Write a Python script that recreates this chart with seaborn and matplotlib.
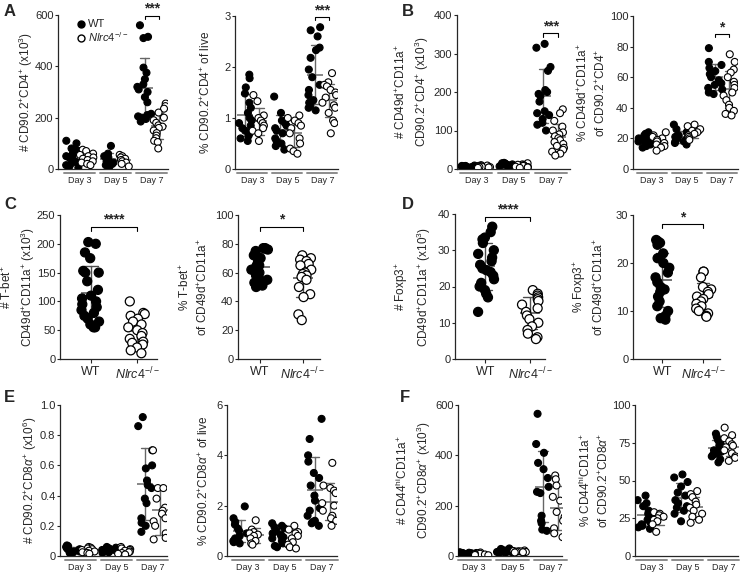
import warnings
import numpy as np
import pandas as pd
import seaborn as sns
import matplotlib.pyplot as plt
from matplotlib.lines import Line2D

warnings.filterwarnings('ignore')

days = ['Day 3', 'Day 5', 'Day 7']
genos = ['WT', 'Nlrc4']
ko_label = r'$\mathit{Nlrc4}^{-/-}$'

# A: CD90.2+CD4+ count (x10^3), per day 3/5/7
a_count_wt = [[110, 100, 80, 75, 70, 60, 55, 50, 45, 40, 30, 25, 20, 15, 10, 5],
              [90, 60, 50, 45, 40, 35, 30, 25, 20, 15, 10],
              [560, 515, 510, 395, 375, 350, 330, 320, 310, 300, 280, 260, 215, 210, 205, 200, 195, 185]]
a_count_ko = [[75, 70, 60, 55, 50, 45, 40, 35, 30, 25, 20, 15],
              [55, 50, 45, 40, 35, 30, 25, 20, 10],
              [255, 245, 235, 220, 200, 190, 180, 170, 165, 160, 150, 140, 130, 120, 110, 105, 80]]
# A: % CD90.2+CD4+ of live
a_pct_wt = [[1.85, 1.78, 1.6, 1.48, 1.3, 1.2, 1.1, 1.0, 0.95, 0.9, 0.85, 0.8, 0.75, 0.7, 0.65, 0.6, 0.55],
            [1.42, 1.1, 0.95, 0.9, 0.85, 0.8, 0.75, 0.7, 0.6, 0.55, 0.5, 0.45, 0.38],
            [2.78, 2.72, 2.6, 2.38, 2.33, 2.18, 1.95, 1.8, 1.65, 1.55, 1.45, 1.35, 1.3, 1.25, 1.2, 1.15]]
a_pct_ko = [[1.45, 1.33, 1.05, 1.0, 0.95, 0.9, 0.85, 0.8, 0.75, 0.7, 0.55],
            [1.05, 1.0, 0.95, 0.9, 0.85, 0.8, 0.7, 0.6, 0.5, 0.4, 0.35, 0.3],
            [1.88, 1.7, 1.65, 1.62, 1.55, 1.5, 1.45, 1.4, 1.3, 1.25, 1.2, 1.1, 0.95, 0.9, 0.7]]

# B: CD49d+CD11a+ count (x10^3) and % of CD90.2+CD4+
b_count_wt = [[9, 8, 8, 7, 7, 6, 6, 5, 5, 4, 4, 3, 3, 2],
              [16, 15, 14, 13, 12, 12, 11, 10, 9, 8, 7, 6],
              [325, 315, 265, 255, 205, 200, 195, 190, 175, 150, 145, 140, 130, 120, 115, 100]]
b_count_ko = [[10, 9, 8, 7, 7, 6, 5, 5, 4, 3],
              [15, 12, 11, 10, 9, 8, 6, 5, 4, 3],
              [155, 145, 125, 110, 100, 95, 90, 85, 80, 75, 70, 65, 60, 55, 50, 45, 40, 35]]
b_pct_wt = [[24, 23, 22, 21, 20, 20, 19, 18, 18, 17, 16, 15, 14],
            [29, 26, 24, 22, 21, 20, 19, 18, 18, 17, 16],
            [79, 70, 68, 66, 64, 62, 60, 58, 56, 55, 53, 52, 50, 49]]
b_pct_ko = [[24, 22, 21, 20, 19, 18, 17, 16, 15, 14, 12],
            [29, 28, 26, 25, 24, 23, 22, 21, 20, 19],
            [75, 70, 65, 63, 60, 57, 55, 53, 50, 48, 45, 42, 40, 38, 36, 35]]

# C: T-bet+ (day 7)
c_count_wt = [203, 200, 185, 175, 153, 150, 150, 135, 120, 110, 105, 100, 95, 90, 85, 80, 75, 70, 65, 60, 55, 55]
c_count_ko = [100, 80, 78, 75, 70, 65, 60, 55, 50, 45, 40, 35, 30, 28, 25, 20, 15, 10]
c_pct_wt = [77, 77, 76, 75, 73, 72, 70, 68, 66, 65, 64, 62, 60, 58, 56, 55, 53, 52, 51, 50]
c_pct_ko = [72, 70, 69, 68, 66, 65, 62, 60, 59, 58, 57, 55, 50, 45, 43, 31, 27]

# D: Foxp3+ (day 7)
d_count_wt = [36.5, 35, 33.5, 33, 32, 30, 29, 28, 27, 26, 25, 24.5, 24, 23, 22, 21, 20, 19, 18, 17, 13]
d_count_ko = [19, 18, 17.5, 17, 16.5, 16, 15, 14, 13, 12, 11, 10, 9, 8, 7, 6, 5.5]
d_pct_wt = [24.8, 24.5, 24.2, 23.8, 22, 21, 20, 19, 18, 17, 16, 15, 14.5, 14, 13, 12, 11, 10, 9, 8.5, 8.2]
d_pct_ko = [18.2, 18.2, 17, 15, 14.5, 14, 13.5, 13, 12.5, 12, 11.5, 11, 10.5, 10, 9.5, 9, 8.8]

# E: CD90.2+CD8a+ count (x10^6) and % of live
e_count_wt = [[0.07, 0.065, 0.06, 0.05, 0.05, 0.045, 0.04, 0.04, 0.035, 0.03, 0.03, 0.025, 0.02, 0.02],
              [0.06, 0.055, 0.05, 0.05, 0.045, 0.04, 0.04, 0.035, 0.03, 0.03, 0.025, 0.02],
              [0.92, 0.86, 0.70, 0.60, 0.58, 0.50, 0.47, 0.45, 0.38, 0.35, 0.25, 0.22, 0.20, 0.16]]
e_count_ko = [[0.06, 0.055, 0.05, 0.045, 0.04, 0.035, 0.03, 0.025, 0.02, 0.015],
              [0.06, 0.05, 0.045, 0.04, 0.035, 0.03, 0.025, 0.02, 0.015, 0.01],
              [0.70, 0.45, 0.45, 0.38, 0.32, 0.30, 0.28, 0.25, 0.23, 0.20, 0.15, 0.12, 0.11]]
e_pct_wt = [[1.97, 1.5, 1.35, 1.25, 1.1, 1.0, 0.9, 0.8, 0.7, 0.65, 0.6, 0.55, 0.5],
            [1.3, 1.2, 1.15, 1.1, 1.0, 0.9, 0.85, 0.8, 0.75, 0.7, 0.6, 0.5, 0.4, 0.35],
            [5.45, 4.65, 4.0, 3.75, 3.3, 3.1, 2.8, 2.4, 2.2, 1.9, 1.8, 1.6, 1.4, 1.35, 1.3, 1.2]]
e_pct_ko = [[1.42, 1.05, 0.95, 0.9, 0.85, 0.8, 0.7, 0.6, 0.5, 0.45],
            [1.2, 1.05, 0.95, 0.9, 0.8, 0.7, 0.55, 0.45, 0.35, 0.3],
            [3.7, 2.8, 2.7, 2.6, 2.5, 2.1, 2.0, 1.8, 1.6, 1.5, 1.4, 1.2]]

# F: CD44hiCD11a+ count (x10^3) and % of CD90.2+CD8a+
f_count_wt = [[15, 13, 12, 11, 10, 9, 8, 7, 6, 5, 4, 3],
              [30, 28, 25, 23, 22, 20, 19, 18, 16, 15, 13, 12],
              [565, 445, 410, 370, 345, 310, 275, 255, 250, 160, 140, 130, 105, 100]]
f_count_ko = [[14, 12, 10, 9, 8, 6, 5, 4, 3],
              [22, 20, 19, 18, 17, 16, 15, 14],
              [320, 305, 280, 235, 220, 175, 155, 140, 110, 90, 75]]
f_pct_wt = [[40, 37, 35, 33, 30, 28, 26, 24, 22, 21, 20, 19, 18],
            [54, 52, 49, 46, 42, 40, 37, 35, 33, 32, 30, 28, 23],
            [81, 79, 77, 75, 74, 73, 72, 71, 70, 69, 68, 67, 66, 64, 62]]
f_pct_ko = [[29, 28, 27, 26, 25, 24, 23, 21, 16],
            [43, 41, 39, 36, 34, 32, 30, 28, 26, 24, 22],
            [85, 80, 78, 76, 74, 73, 72, 70, 68, 66, 65, 63]]

sns.set_theme(style='ticks')
plt.rcParams['font.family'] = ['Liberation Sans', 'DejaVu Sans']
plt.rcParams['mathtext.fontset'] = 'custom'
plt.rcParams['mathtext.rm'] = 'Liberation Sans'
plt.rcParams['mathtext.it'] = 'Liberation Sans:italic'
plt.rcParams['mathtext.bf'] = 'Liberation Sans:bold'

W, H = 740, 586
fig = plt.figure(figsize=(W / 100, H / 100), dpi=100)
np.random.seed(7)  # strip jitter only


def px_axes(l, t, r, b):
    return fig.add_axes([l / W, 1 - b / H, (r - l) / W, (b - t) / H])


def long_days(wt, ko):
    rows = []
    for g, series in (('WT', wt), ('Nlrc4', ko)):
        for d, vals in zip(days, series):
            rows += [(g, d, v) for v in vals]
    return pd.DataFrame(rows, columns=['geno', 'day', 'val'])


def long_geno(wt, ko):
    rows = [('WT', v) for v in wt] + [('Nlrc4', v) for v in ko]
    return pd.DataFrame(rows, columns=['geno', 'val'])


def style_axis(ax, box, ylim, yticks, ylabel, lab_off, xlim, ytl=None):
    sns.despine(ax=ax)
    for s in ('left', 'bottom'):
        ax.spines[s].set_linewidth(0.9)
        ax.spines[s].set_color('0.15')
    ax.set_ylim(*ylim)
    ax.set_yticks(yticks)
    if ytl is not None:
        ax.set_yticklabels(ytl)
    ax.set_xlim(*xlim)
    ax.tick_params(axis='y', labelsize=8, length=2.5, width=0.8, pad=0.8, color='0.15')
    ax.set_ylabel(ylabel, fontsize=8.5, linespacing=1.4)
    # label's lower edge sits lab_off pixels left of the y axis
    ax.yaxis.set_label_coords(-lab_off / (box[2] - box[0]), 0.5)
    ax.set_xlabel('')


def bracket(ax, x1, x2, y, h, text):
    ax.plot([x1, x1, x2, x2], [y - h, y, y, y - h], color='black', lw=0.8, clip_on=False)
    ax.text((x1 + x2) / 2, y, text, ha='center', va='bottom', fontsize=10,
            fontweight='bold', clip_on=False)


def day_panel(box, wt, ko, ylim, yticks, ylabel, lab_off, xlim, ytl=None, sig=None):
    ax = px_axes(*box)
    df = long_days(wt, ko)
    sns.stripplot(data=df, x='day', y='val', hue='geno', order=days, hue_order=genos,
                  dodge=True, jitter=0.4, palette=['black', 'white'], edgecolor='black',
                  linewidth=0.8, size=5, legend=False, ax=ax)
    sns.pointplot(data=df, x='day', y='val', hue='geno', order=days, hue_order=genos,
                  dodge=0.4, errorbar='sd', palette=['0.4', '0.4'], markers='_',
                  linestyles='none', markersize=11, markeredgewidth=1.1, capsize=0.25,
                  err_kws={'linewidth': 1.0}, legend=False, ax=ax)
    style_axis(ax, box, ylim, yticks, ylabel, lab_off, xlim, ytl)
    ax.tick_params(axis='x', length=0, labelsize=6.5, pad=5)
    tr = ax.get_xaxis_transform()
    for i in range(len(days)):
        ax.plot([i - 0.43, i + 0.43], [-0.025, -0.025], transform=tr, clip_on=False,
                color='0.55', lw=1.4)
    if sig:
        y, h, text = sig
        bracket(ax, 1.8, 2.2, y, h, text)
    return ax


def geno_panel(box, wt, ko, ylim, yticks, ylabel, lab_off, xlim, sig):
    ax = px_axes(*box)
    df = long_geno(wt, ko)
    sns.stripplot(data=df, x='geno', y='val', hue='geno', order=genos, hue_order=genos,
                  jitter=0.2, palette=['black', 'white'], edgecolor='black', linewidth=0.9,
                  size=6.5, legend=False, ax=ax)
    sns.pointplot(data=df, x='geno', y='val', order=genos, errorbar='sd', color='0.3',
                  markers='_', linestyles='none', markersize=14, markeredgewidth=1.1,
                  capsize=0.3, err_kws={'linewidth': 1.0}, ax=ax)
    style_axis(ax, box, ylim, yticks, ylabel, lab_off, xlim)
    ax.tick_params(axis='x', length=3, width=0.8, labelsize=9, pad=2, color='0.15')
    ax.set_xticks([0, 1])
    ax.set_xticklabels(['WT', ko_label])
    y, h, text = sig
    bracket(ax, 0, 1, y, h, text)
    return ax


# row 1: A and B
ax = day_panel((58, 15, 168, 169), a_count_wt, a_count_ko, (0, 600), [0, 200, 400, 600],
               '# CD90.2$^{+}$CD4$^{+}$ (x10$^{3}$)', 23, (-0.6, 2.45), sig=(598, 12, '***'))
handles = [Line2D([], [], marker='o', ls='none', color='black', markersize=5),
           Line2D([], [], marker='o', ls='none', markerfacecolor='white',
                  markeredgecolor='black', markersize=5)]
ax.legend(handles, ['WT', ko_label], loc='upper left', bbox_to_anchor=(0.12, 1.0),
          frameon=False, fontsize=8, handletextpad=0.1, borderaxespad=0, labelspacing=0.1,
          handlelength=1.0)

day_panel((235, 16, 338, 169), a_pct_wt, a_pct_ko, (0, 3), [0, 1, 2, 3],
          '% CD90.2$^{+}$CD4$^{+}$ of live', 22, (-0.5, 2.45), sig=(2.98, 0.06, '***'))
day_panel((457, 15, 570, 169), b_count_wt, b_count_ko, (0, 400), [0, 100, 200, 300, 400],
          '# CD49d$^{+}$CD11a$^{+}$\nCD90.2$^{+}$CD4$^{+}$ (x10$^{3}$)', 26, (-0.52, 2.52),
          sig=(352, 8, '***'))
day_panel((633, 16, 738, 169), b_pct_wt, b_pct_ko, (0, 100), [0, 20, 40, 60, 80, 100],
          '% CD49d$^{+}$CD11a$^{+}$\nof CD90.2$^{+}$CD4$^{+}$', 25, (-0.54, 2.45),
          sig=(88, 2, '*'))

# row 2: C and D
geno_panel((60, 215, 157, 359), c_count_wt, c_count_ko, (0, 250), [0, 50, 100, 150, 200, 250],
           '# T-bet$^{+}$\nCD49d$^{+}$CD11a$^{+}$ (x10$^{3}$)', 23, (-0.66, 1.43), (230, 7, '****'))
geno_panel((238, 215, 320, 359), c_pct_wt, c_pct_ko, (0, 100), [0, 20, 40, 60, 80, 100],
           '% T-bet$^{+}$\nof CD49d$^{+}$CD11a$^{+}$', 28, (-0.51, 1.4), (92, 3, '*'))
geno_panel((455, 214, 545, 359), d_count_wt, d_count_ko, (0, 40), [0, 10, 20, 30, 40],
           '# Foxp3$^{+}$\nCD49d$^{+}$CD11a$^{+}$ (x10$^{3}$)', 22, (-0.67, 1.33), (39.3, 1.1, '****'))
geno_panel((633, 215, 720, 359), d_pct_wt, d_pct_ko, (0, 30), [0, 10, 20, 30],
           '% Foxp3$^{+}$\nof CD49d$^{+}$CD11a$^{+}$', 27, (-0.71, 1.41), (28.1, 0.8, '*'))

# row 3: E and F
day_panel((60, 405, 167, 556), e_count_wt, e_count_ko, (0, 1.0), [0, 0.2, 0.4, 0.6, 0.8, 1.0],
          r'# CD90.2$^{+}$CD8$\alpha^{+}$ (x10$^{6}$)', 21, (-0.56, 2.4),
          ytl=['0', '0.2', '0.4', '0.6', '0.8', '1.0'])
day_panel((227, 405, 337, 556), e_pct_wt, e_pct_ko, (0, 6), [0, 2, 4, 6],
          r'% CD90.2$^{+}$CD8$\alpha^{+}$ of live', 16, (-0.57, 2.4))
day_panel((458, 405, 562, 556), f_count_wt, f_count_ko, (0, 600), [0, 200, 400, 600],
          '# CD44$^{\\mathrm{hi}}$CD11a$^{+}$\nCD90.2$^{+}$CD8$\\alpha^{+}$ (x10$^{3}$)', 25,
          (-0.42, 2.3))
day_panel((635, 405, 738, 556), f_pct_wt, f_pct_ko, (0, 100), [0, 25, 50, 75, 100],
          '% CD44$^{\\mathrm{hi}}$CD11a$^{+}$\nof CD90.2$^{+}$CD8$\\alpha^{+}$', 24, (-0.47, 2.4))

for letter, x, y in (('A', 4, 4), ('B', 402, 4), ('C', 4, 197), ('D', 402, 197),
                     ('E', 4, 390), ('F', 400, 390)):
    fig.text(x / W, 1 - y / H, letter, fontsize=12, fontweight='bold', ha='left', va='top')

fig.savefig('out.png', dpi=100, facecolor='white')
